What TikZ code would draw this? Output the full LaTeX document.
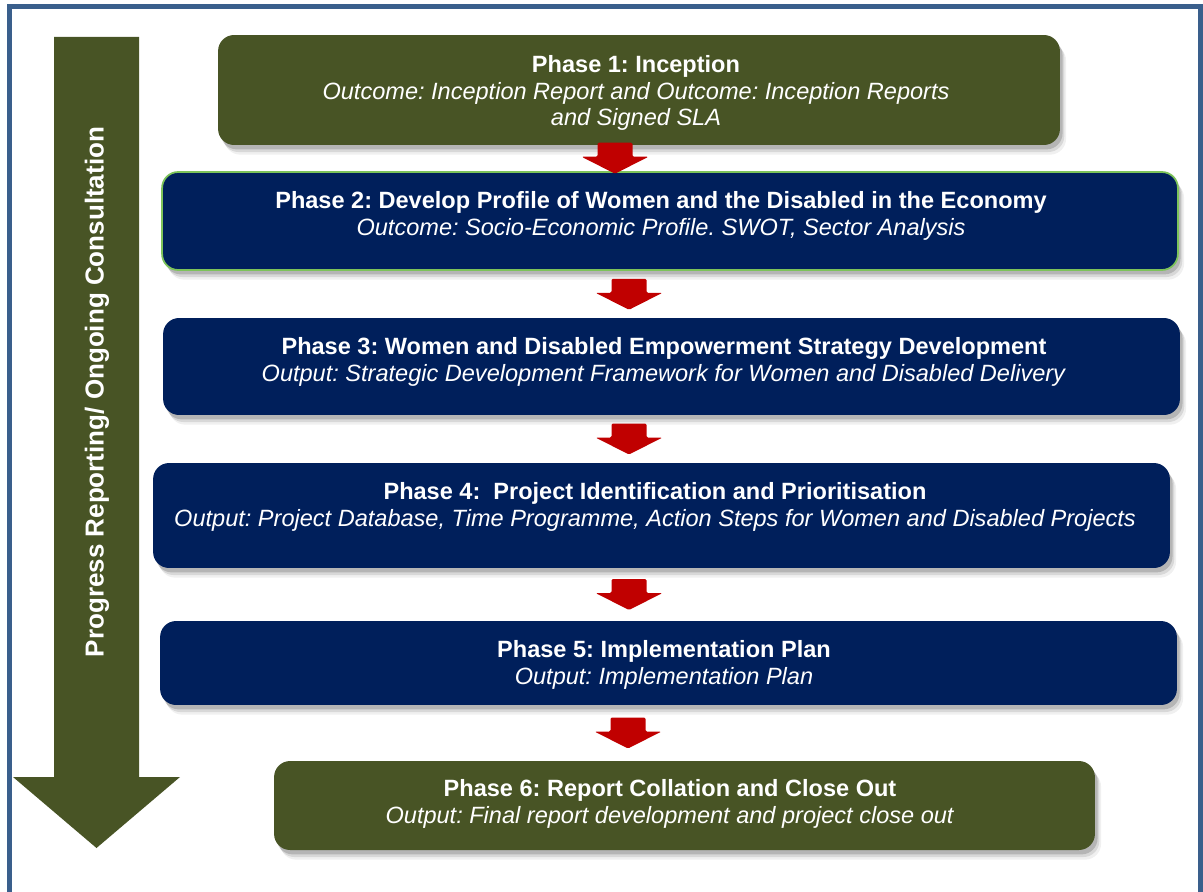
\documentclass[tikz,border=0pt]{standalone}
\usepackage{fontspec}
\setmainfont{Liberation Sans}
\usetikzlibrary{shadows,calc,positioning}
\frenchspacing

\definecolor{phasegreen}{RGB}{72,84,37}
\definecolor{phaseblue}{RGB}{0,31,91}
\definecolor{arrowred}{RGB}{192,0,0}
\definecolor{frameblue}{RGB}{58,95,140}
\definecolor{edgegreen}{RGB}{125,195,90}

\tikzset{
  phasebox/.style={rectangle, rounded corners=0.32cm, inner sep=0pt,
    general shadow={fill=black, opacity=.16, shadow xshift=1.5pt, shadow yshift=-2.5pt},
    general shadow={fill=black, opacity=.10, shadow xshift=2.5pt, shadow yshift=-4pt},
    general shadow={fill=black, opacity=.06, shadow xshift=3.5pt, shadow yshift=-5.5pt}},
  phasetext/.style={text=white, align=center, font=\fontsize{13.4}{15.3}\selectfont},
  downarrow/.pic={
    \fill[arrowred, rounded corners=0.8pt] (-17.5,-15.5) -- (17.5,-15.5) -- (17.5,-1.5)
      -- (33.5,-1.5) -- (0,15.5) -- (-33.5,-1.5) -- (-17.5,-1.5) -- cycle;
  }
}

\begin{document}
\begin{tikzpicture}[x=0.02cm, y=-0.02cm]

  % Page area (units are pixels, y runs down)
  \useasboundingbox (0,0) rectangle (1203,892);

  % Outer frame, open at the bottom
  \draw[frameblue, line width=0.1cm] (9.5,892) -- (9.5,6.5) -- (1200.5,6.5) -- (1200.5,892);

  % Big arrow on the left
  \fill[phasegreen] (54,37) -- (139,37) -- (139,777) -- (180,777) -- (96.5,848)
    -- (13,777) -- (54,777) -- cycle;
  \node[rotate=90, text=white, font=\bfseries\fontsize{14.8}{17}\selectfont] (progress)
    at (97,392) {Progress Reporting/ Ongoing Consultation};

  % Phase boxes
  \node[phasebox, fill=phasegreen, minimum width=16.84cm, minimum height=2.2cm] (p1) at (639,90) {};
  \node[phasebox, fill=phaseblue, draw=edgegreen, line width=1pt,
        minimum width=20.32cm, minimum height=1.96cm] (p2) at (670,221) {};
  \node[phasebox, fill=phaseblue, minimum width=20.34cm, minimum height=1.94cm] (p3) at (671.5,366.5) {};
  \node[phasebox, fill=phaseblue, minimum width=20.34cm, minimum height=2.1cm] (p4) at (661.5,515.5) {};
  \node[phasebox, fill=phaseblue, minimum width=20.34cm, minimum height=1.68cm] (p5) at (668.5,663) {};
  \node[phasebox, fill=phasegreen, minimum width=16.42cm, minimum height=1.78cm] (p6) at (684.5,805.5) {};

  % Phase texts
  \node[phasetext] (t1) at (636,93) {\textbf{Phase 1: Inception}\\
    \textit{Outcome: Inception Report and Outcome: Inception Reports}\\
    \textit{and Signed SLA}};
  \node[phasetext] (t2) at (661,216) {\textbf{Phase 2: Develop Profile of Women and the Disabled in the Economy}\\
    \textit{Outcome: Socio-Economic Profile. SWOT, Sector Analysis}};
  \node[phasetext] (t3) at (664,362) {\textbf{Phase 3: Women and Disabled Empowerment Strategy Development}\\
    \textit{Output: Strategic Development Framework for Women and Disabled Delivery}};
  \node[phasetext] (t4) at (655,507) {\textbf{Phase 4: \ Project Identification and Prioritisation}\\
    \textit{Output: Project Database, Time Programme, Action Steps for Women and Disabled Projects}};
  \node[phasetext] (t5) at (664,665) {\textbf{Phase 5: Implementation Plan}\\
    \textit{Output: Implementation Plan}};
  \node[phasetext] (t6) at (670,804) {\textbf{Phase 6: Report Collation and Close Out}\\
    \textit{Output: Final report development and project close out}};

  % Red arrows between the phases
  \foreach \a/\b/\x in {p1/p2/615, p2/p3/629, p3/p4/629, p4/p5/629, p5/p6/628} {
    \coordinate (gap) at ($(\a.south)!0.5!(\b.north)$);
    \pic at (\x,0 |- gap) {downarrow};
  }

\end{tikzpicture}
\end{document}
